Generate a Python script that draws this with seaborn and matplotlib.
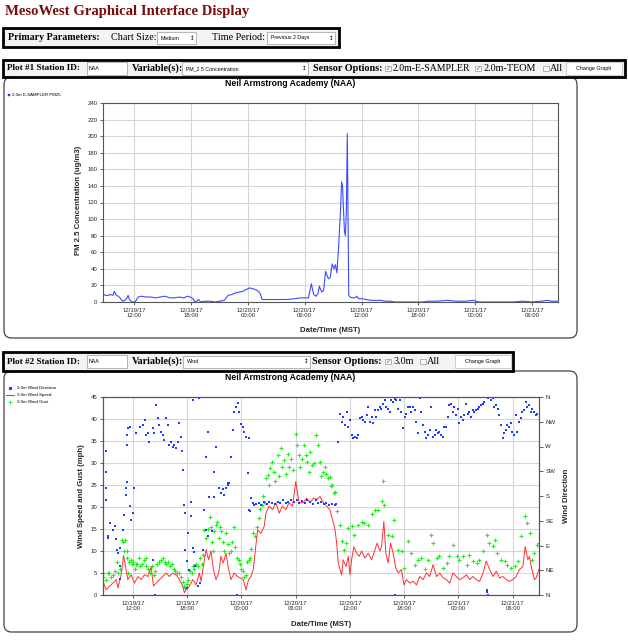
import numpy as np
import pandas as pd
import matplotlib
matplotlib.use("Agg")
import matplotlib.pyplot as plt
import matplotlib.dates as mdates
from matplotlib.patches import Rectangle, FancyBboxPatch
from matplotlib.lines import Line2D
import seaborn as sns

# ---------------- DATA (hours since 2017-12-19 00:00 MST) ----------------
pm_hours = [8.75, 9.0, 9.25, 9.5, 9.75, 9.9, 10.1, 10.3, 10.5, 10.75, 11.0, 11.2, 11.35, 11.5, 11.75,
            12.1, 12.4, 12.75, 13.25, 13.75, 14.25, 14.75, 15.25, 15.75, 16.25, 16.75, 17.25, 17.6, 17.9,
            18.2, 18.4, 18.6, 18.8, 19.0, 19.5, 20.0, 20.5, 21.0, 21.5, 21.9, 22.3, 22.7, 23.1, 23.5, 23.8,
            24.2, 24.5, 24.8, 25.1, 25.3, 25.5, 26.0, 27.0, 28.0, 29.0, 29.5, 30.0, 30.4, 30.7, 30.95,
            31.2, 31.4, 31.55, 31.8, 32.0, 32.2, 32.5, 32.7, 32.9, 33.1, 33.25, 33.4, 33.6, 33.8, 33.9,
            34.0, 34.1, 34.2, 34.3, 34.4, 34.5, 34.65, 34.8, 35.0, 35.3, 35.5, 35.7, 36.0, 36.5, 37.0,
            37.5, 38.0, 38.5, 39.0, 39.5, 40.0, 41.0, 42.0, 42.5, 43.0, 44.0, 45.0, 46.0, 47.0, 47.8,
            48.1, 48.4, 50.0, 52.0, 53.0, 54.0, 55.0, 55.7, 56.0, 56.7]
pm_values = [9, 8, 8, 9, 8, 13, 8, 7, 5, 1, 2, 4, 8, 3, 0,
             0, 6, 7, 6, 6, 5, 6, 7, 5, 5, 6, 5, 7, 6,
             4, 0, 1, 3, 0, 1, 1, 0, 1, 2, 8, 9, 11, 12, 13, 15,
             17, 16, 15, 13, 10, 3, 3, 3, 3, 4, 5, 5, 5, 22, 9,
             7, 10, 19, 12, 14, 37, 28, 30, 46, 40, 45, 35, 70, 115, 145,
             140, 110, 85, 80, 110, 203, 8, 6, 5, 5, 7, 4, 4, 3, 2,
             2, 2, 1, 1, 0, 0, 0, 0, 0, 1, 1, 2, 1, 1, 2,
             1, 0, 0, 0, 1, 0, 1, 2, 1, 1]

speed_hours = [8.69, 8.88, 9.06, 9.43, 9.79, 10.16, 10.35, 10.71, 10.97, 11.19, 11.45, 11.82, 12.18,
               12.55, 12.92, 13.29, 13.65, 14.02, 14.28, 14.57, 14.94, 15.31, 15.68, 16.04, 16.41,
               16.78, 17.15, 17.51, 17.70, 17.88, 18.25, 18.62, 18.99, 19.35, 19.54, 19.79, 20.09,
               20.38, 20.64, 20.90, 21.19, 21.49, 21.74, 22.0, 22.29, 22.59, 22.85, 23.21, 23.58,
               23.84, 24.21, 24.50, 24.79, 25.05, 25.31, 25.53, 25.79, 26.15, 26.52, 26.71, 27.07,
               27.44, 27.81, 28.18, 28.54, 28.91, 29.28, 29.65, 30.01, 30.2, 30.38, 30.85, 31.22,
               31.59, 31.96, 32.32, 32.69, 33.06, 33.43, 33.79, 33.98, 34.16, 34.35, 34.53, 34.71,
               34.90, 35.08, 35.26, 35.56, 35.82, 36.0, 36.18, 36.44, 36.74, 37.03, 37.29, 37.65,
               38.02, 38.39, 38.76, 39.01, 39.31, 39.49, 39.75, 39.97, 40.23, 40.49, 40.78, 41.07,
               41.33, 41.70, 41.96, 42.25, 42.62, 42.99, 43.35, 43.72, 44.09, 44.46, 44.82, 45.19,
               45.56, 45.93, 46.29, 46.66, 47.03, 47.40, 47.76, 48.13, 48.50, 48.87, 49.24, 49.60,
               49.97, 50.34, 50.71, 51.07, 51.44, 51.81, 52.18, 52.54, 52.91, 53.28, 53.65, 54.01,
               54.38, 54.75, 55.12, 55.37, 55.67, 55.85, 56.04, 56.22, 56.40, 56.59, 56.88]
speed_values = [3.5, 2, 1.2, 2, 2.7, 3.5, 1.6, 4.6, 9, 6.5, 3.5, 4.6, 2.7,
                4.2, 3.5, 4.6, 4.2, 6.4, 2, 2.7, 3.5, 4.2, 5, 4.2, 5,
                4.6, 3.5, 2, 0.5, 1.2, 2, 3.5, 2.3, 5, 3.1, 6.5, 10.3,
                8, 10, 5.8, 3.5, 5, 8.8, 7.3, 9.5, 5.8, 3.5, 5, 4.2,
                3.9, 3.5, 1.2, 3.5, 4.2, 5.8, 10, 14.8, 14, 15.6, 18.6, 20.2,
                19.4, 21, 18.6, 20.2, 19.4, 21, 20.2, 25.8, 23.2, 21, 21, 22,
                21, 22, 21.7, 22.4, 21, 20.2, 19.4, 17.9, 16.4, 14.8, 11.8, 7.3,
                5.8, 4.6, 8, 6.5, 8.8, 4.6, 8, 11, 9.5, 8.8, 10, 8.4,
                9.5, 8, 10.3, 11.8, 10, 11, 16.7, 9.5, 7.3, 11.8, 9.5, 6.1,
                5, 5.8, 2.3, 3.5, 2.7, 3.1, 2.3, 4.2, 3.5, 5, 4.2, 6.9,
                4.2, 5, 3.9, 3.5, 2.7, 5, 4.2, 3.5, 3.9, 4.6, 3.5, 4.2,
                3.5, 3.1, 5, 7.7, 5.8, 4.2, 5.4, 3.9, 4.2, 3.5, 3.1, 3.5,
                4.2, 5.8, 6.5, 11, 8, 8.8, 6.5, 5, 3.5, 3.9, 5.8]

gust_hours = [8.7, 8.75, 9.0, 9.2, 9.4, 9.6, 9.8, 10.0, 10.2, 10.4, 10.6, 10.8, 10.9, 11.0, 11.1,
              11.3, 11.4, 11.5, 11.6, 11.8, 11.9, 12.0, 12.2, 12.3, 12.5, 12.7, 12.8, 13.0, 13.2,
              13.4, 13.5, 13.7, 13.9, 14.1, 14.3, 14.5, 14.7, 14.9, 15.1, 15.3, 15.5, 15.7, 15.9,
              16.1, 16.3, 16.5, 16.7, 16.9, 17.1, 17.3, 17.5, 17.7, 17.8, 18.0, 18.1, 18.3, 18.5,
              18.6, 18.8, 19.0, 19.2, 19.4, 19.6, 19.8, 19.9, 20.1, 20.3, 20.5, 20.6, 20.8, 20.9,
              21.0, 21.2, 21.3, 21.5, 21.6, 21.8, 22.0, 22.1, 22.3, 22.5, 22.6, 22.8, 23.0, 23.2,
              23.3, 23.5, 23.7, 23.8, 24.0, 24.2, 24.3, 24.5, 24.6, 24.8, 25.0, 25.1, 25.3, 25.5,
              25.7, 25.9, 26.1, 26.3, 26.4, 26.6, 26.7, 26.9, 27.0, 27.2, 27.4, 27.6, 27.7, 28.0,
              28.2, 28.4, 28.5, 28.7, 28.9, 29.1, 29.3, 29.5, 29.7, 30.0, 30.2, 30.4, 30.5, 30.7,
              30.9, 31.1, 31.3, 31.5, 31.6, 31.8, 32.0, 32.3, 32.5, 32.7, 32.8, 33.0, 33.2, 33.4,
              33.6, 33.8, 33.9, 34.0, 34.2, 34.4, 34.6, 34.9, 35.1, 35.3, 35.6, 35.8, 36.2, 36.5,
              36.9, 37.3, 37.6, 38.0, 38.4, 38.8, 39.1, 39.5, 39.7, 39.8, 40.2, 40.6, 40.9, 41.3,
              41.7, 42.0, 42.4, 42.8, 43.2, 43.5, 43.9, 44.3, 44.6, 45.0, 45.2, 45.6, 45.9, 46.3,
              46.7, 47.0, 47.4, 47.8, 48.1, 48.5, 48.9, 49.2, 49.6, 50.0, 50.3, 50.7, 51.1, 51.4,
              51.8, 52.0, 52.3, 52.7, 53.1, 53.4, 53.8, 54.2, 54.6, 54.9, 55.3, 55.6, 55.9, 56.1,
              56.4, 56.7, 56.9]
gust_values = [5, 4, 3.5, 5, 5, 4, 4.5, 5.5, 7.5, 5, 6, 12.5, 12, 10, 12.5,
               10, 8.5, 5, 7.5, 8, 7, 7.5, 6, 7, 7, 8.5, 6.5, 7, 8,
               8.5, 6.5, 6, 5, 6.5, 4.5, 5.5, 7, 7.5, 8, 8.5, 7.5, 7, 7.5,
               6.5, 7, 6, 5.5, 5, 5, 4, 3, 2, 1.5, 2.5, 3.5, 5.5, 5,
               6.5, 6, 7, 6.5, 8.5, 7, 9, 14.8, 13, 15, 17.7, 15.5, 12, 10,
               14.5, 16, 16.7, 13, 15.5, 14.5, 12, 10, 14, 11.5, 9.5, 10, 12, 15.5,
               11, 8.5, 8, 7, 6, 5.5, 4, 4.5, 7.5, 8, 8.5, 10.5, 14, 13.5,
               15.5, 17.5, 19.5, 20.5, 22.5, 21, 26.5, 27.3, 25, 28.8, 30.3, 28, 26, 31.8,
               27, 33.3, 29, 30.7, 27.5, 32, 29, 31, 28.5, 36.5, 34, 31.8, 29, 31,
               34, 31.8, 30.3, 28, 32.6, 29.5, 30, 36.4, 34, 30.3, 27, 28, 29.2, 27.5,
               26.5, 26.9, 24.7, 25, 23.2, 23.5, 19, 16, 12.2, 10.3, 11.8, 15.2, 15.6, 13.7,
               16, 16.7, 16.4, 16, 18.3, 19.4, 19.4, 21.3, 26, 20.5, 13.7, 13.3, 17.1, 10.3,
               9.9, 6.1, 12.2, 9.5, 6.9, 8, 8.4, 5.8, 8, 13.7, 11.8, 8.4, 8.8, 6.1,
               7.3, 8.8, 11.4, 8.8, 8, 8.8, 6.9, 9.2, 7.7, 7.3, 8, 9.9, 13.7, 11.8,
               11.1, 12.6, 9.5, 8, 7.7, 6.9, 6.1, 6.5, 7.7, 13.3, 17.9, 16.4, 14, 8,
               9.5, 11.4, 11.8]

dir_hours = [8.69, 8.69, 8.99, 8.99, 9.06, 9.06, 9.24, 9.28, 9.43, 9.79, 9.98, 10.16, 10.2, 10.35,
             10.53, 10.55, 10.60, 10.90, 11.01, 11.19, 11.22, 11.34, 11.34, 11.38, 11.45, 11.63,
             11.63, 11.82, 12.0, 12.18, 12.37, 12.74, 13.10, 13.29, 13.47, 13.65, 13.84, 14.21,
             14.21, 14.39, 14.45, 14.57, 14.76, 14.94, 15.13, 15.31, 15.49, 15.68, 15.86, 16.04,
             16.23, 16.41, 16.60, 16.78, 16.96, 17.15, 17.33, 17.44, 17.51, 17.70, 17.72, 17.77,
             17.96, 17.98, 18.07, 18.25, 18.43, 18.45, 18.62, 18.62, 18.80, 18.82, 19.17, 19.35,
             19.37, 19.72, 19.90, 20.09, 20.09, 20.27, 20.27, 20.46, 20.75, 21.01, 21.01, 21.19,
             21.56, 21.74, 21.93, 22.11, 22.29, 22.48, 22.50, 22.66, 22.85, 23.03, 23.21, 23.40,
             23.47, 23.58, 23.76, 23.95, 24.13, 24.32, 24.50, 24.68, 24.79, 24.87, 24.90, 25.05,
             25.24, 25.42, 25.6, 25.9, 26.2, 26.5, 26.8, 27.1, 27.4, 27.7, 28.0, 28.3, 28.6, 28.9,
             29.2, 29.5, 29.8, 30.1, 30.4, 30.7, 31.0, 31.3, 31.6, 31.9, 32.2, 32.5, 32.8, 33.1,
             33.4, 33.7, 34.0, 34.3, 34.5, 41.0, 51.1, 51.2, 51.25]
dir_values = [291, 272, 262, 195, 224, 173, 107, 104, 131, 119, 125, 101, 82, 76,
              85, 52, 29, 119, 146, 195, 182, 206, 272, 291, 303, 306,
              161, 137, 149, 194, 294, 306, 309, 318, 291, 294, 279, 303,
              64, 294, 0, 345, 321, 309, 297, 291, 282, 321, 309, 273,
              279, 270, 273, 267, 279, 312, 288, 261, 227, 164, 149, 82,
              61, 13, 113, 46, 170, 143, 355, 85, 79, 52, 17, 359,
              22, 82, 155, 251, 119, 297, 107, 179, 116, 179, 223, 270,
              195, 185, 192, 182, 195, 200, 203, 203, 251, 300, 333, 342,
              0, 349, 333, 311, 306, 296, 288, 221, 285, 155, 152, 176,
              167, 164, 165, 168, 163, 170, 166, 170, 168, 165, 170, 167, 172, 168,
              170, 173, 170, 172, 168, 171, 168, 172, 170, 166, 172, 168, 170, 166,
              168, 164, 165, 163, 166, 0, 5, 10, 0]

# wind direction after the front, one report every 11 minutes from 12/20 10:43
dir2_start = "2017-12-20 10:43"
dir2_values = [279, 330, 315, 324, 309, 333, 306, 318, 291, 285, 288, 285, 291, 321, 324, 318, 315,
               327, 342, 315, 324, 312, 336, 324, 336, 342, 339, 348, 355, 342, 339, 333, 355, 351,
               356, 355, 339, 355, 333, 303, 324, 330, 342, 342, 333, 342, 336, 315, 294, 358, 333,
               309, 297, 285, 291, 300, 342, 288, 291, 300, 294, 297, 291, 288, 306, 306, 324, 345,
               348, 333, 342, 327, 339, 312, 324, 318, 327, 348, 330, 333, 324, 336, 333, 336, 339,
               342, 345, 348, 351, 360, 358, 360, 355, 358, 342, 345, 339, 327, 309, 285, 294, 300,
               309, 306, 312, 297, 291, 327, 297, 315, 321, 333, 336, 351, 342, 345, 333, 339, 333,
               327, 330]

x_tick_hours = [12, 18, 24, 30, 36, 42, 48, 54]
pm_yticks = list(range(0, 241, 20))
wind_yticks = list(range(0, 46, 5))
dir_ticks = [0, 45, 90, 135, 180, 225, 270, 315, 360]
dir_labels = ["N", "NE", "E", "SE", "S", "SW", "W", "NW", "N"]

# ---------------- FIGURE ----------------
sns.set_style("white")
plt.rcParams['font.family'] = ['Liberation Sans', 'DejaVu Sans']
SERIF = ['Liberation Serif', 'DejaVu Serif']
SANS = ['Liberation Sans', 'DejaVu Sans']
GREEN = '#22ee22'
BLUE = '#1f3dff'
RED = '#ff3030'

W, H = 628, 640
fig = plt.figure(figsize=(W / 100, H / 100), dpi=100)
fig.patch.set_facecolor('white')

BASE = pd.Timestamp("2017-12-19 00:00")


def to_time(hours):
    return BASE + pd.to_timedelta(np.asarray(hours, dtype=float), unit="h")


def fx(x):
    return x / W


def fy(y):
    return 1 - y / H


def rect(x0, y0, x1, y1, fc, ec, lw, z=2):
    fig.add_artist(Rectangle((fx(x0), fy(y1)), fx(x1) - fx(x0), fy(y0) - fy(y1),
                             transform=fig.transFigure, fc=fc, ec=ec, lw=lw, zorder=z))


def txt(x, y, s, size, family=SERIF, weight='normal', color='black', ha='left', va='center', **kw):
    fig.text(fx(x), fy(y), s, fontsize=size, family=family, weight=weight, color=color,
             ha=ha, va=va, zorder=5, **kw)


def panel(x0, y0, x1, y1):
    fig.add_artist(FancyBboxPatch((fx(x0), fy(y1)), fx(x1) - fx(x0), fy(y0) - fy(y1),
                                  boxstyle="round,pad=0,rounding_size=0.012",
                                  transform=fig.transFigure, fc='white', ec='#444444',
                                  lw=0.9, zorder=1))


def dropdown(x0, x1, yc, label):
    rect(x0, yc - 6, x1, yc + 6, 'white', '#aaaaaa', 0.6, z=3)
    txt(x0 + 4, yc, label, 3.8, family=SANS)
    txt(x1 - 4, yc, "\u2195", 4, family=['DejaVu Sans'], ha='center')


def checkbox(x, yc, checked):
    rect(x, yc - 2.8, x + 5.6, yc + 2.8, '#f8f8f8', '#999999', 0.5, z=4)
    if checked:
        txt(x + 2.8, yc + 0.2, "\u2713", 4.2, family=['DejaVu Sans'], color='#555555', ha='center')


# Title
txt(5, 11, "MesoWest Graphical Interface Display", 10.6, weight='bold', color='#7a0c0c')

# Primary parameters box
rect(3, 28, 339, 47, '#f3f3f3', 'black', 2.0)
txt(8, 38, "Primary Parameters:", 7.2, weight='bold')
txt(111, 38, "Chart Size:", 7.3)
dropdown(157, 196, 38, "Medium")
txt(212, 38, "Time Period:", 7.3)
dropdown(267, 335, 38, "Previous 2 Days")

# Plot 1 option bar
panel(4, 77, 577, 338)
rect(3, 60, 625, 77, '#f3f3f3', 'black', 2.0)
y1b = 68.5
txt(7, y1b, "Plot #1 Station ID:", 6.6, weight='bold')
rect(87, y1b - 6.5, 127, y1b + 6.5, 'white', '#999999', 0.5, z=3)
txt(89, y1b, "NAA", 3.8, family=SANS)
txt(132, y1b, "Variable(s):", 7.3, weight='bold')
dropdown(182, 308, y1b, "PM_2.5 Concentration")
txt(313, y1b, "Sensor Options:", 7.3, weight='bold')
checkbox(385, y1b, True)
txt(393, y1b, "2.0m-E-SAMPLER", 7.0)
checkbox(475, y1b, True)
txt(483, y1b, "2.0m-TEOM", 7.3)
checkbox(543, y1b, False)
txt(550, y1b, "All", 7.3)
rect(566, y1b - 6.5, 622, y1b + 6.5, 'white', '#bbbbbb', 0.5, z=3)
txt(594, y1b, "Change Graph", 3.9, family=SANS, ha='center')

txt(290, 84, "Neil Armstrong Academy (NAA)", 6.2, family=SANS, weight='bold', ha='center')
rect(7.5, 93.5, 10, 96, BLUE, BLUE, 0.3, z=4)
txt(12.5, 95, "2.0m E-SAMPLER PM25", 3.2, family=SANS)

# Plot 2 option bar
panel(4, 371, 577, 632)
rect(3, 352, 513, 371, '#f3f3f3', 'black', 2.0)
y2b = 361.5
txt(7, y2b, "Plot #2 Station ID:", 6.6, weight='bold')
rect(87, y2b - 6.5, 127, y2b + 6.5, 'white', '#999999', 0.5, z=3)
txt(89, y2b, "NAA", 3.8, family=SANS)
txt(132, y2b, "Variable(s):", 7.3, weight='bold')
dropdown(183, 310, y2b, "Wind")
txt(312, y2b, "Sensor Options:", 7.3, weight='bold')
checkbox(385, y2b, True)
txt(393, y2b, "3.0m", 7.3)
checkbox(420, y2b, False)
txt(427, y2b, "All", 7.3)
rect(455, y2b - 6.5, 511, y2b + 6.5, 'white', '#bbbbbb', 0.5, z=3)
txt(483, y2b, "Change Graph", 3.9, family=SANS, ha='center')

txt(290, 377, "Neil Armstrong Academy (NAA)", 6.2, family=SANS, weight='bold', ha='center')
# legend of plot 2
fig.add_artist(Line2D([fx(10)], [fy(388)], marker='s', ms=1.3, color=BLUE, lw=0,
                      transform=fig.transFigure, zorder=5))
fig.add_artist(Line2D([fx(6), fx(14)], [fy(395), fy(395)], color=RED, lw=0.8,
                      transform=fig.transFigure, zorder=5))
fig.add_artist(Line2D([fx(10)], [fy(402)], marker='+', ms=2.5, mew=0.6, color=GREEN, lw=0,
                      transform=fig.transFigure, zorder=5))
txt(17, 388, "3.0m Wind Direction", 3.2, family=SANS)
txt(17, 395, "3.0m Wind Speed", 3.2, family=SANS)
txt(17, 402, "3.0m Wind Gust", 3.2, family=SANS)

# ---------------- AXES ----------------
xmin, xmax = to_time([8.7, 56.75])
tick_times = to_time(x_tick_hours)
fmt = mdates.DateFormatter('%m/%d/%y\n%H:%M')


def style_axes(ax):
    for sp in ax.spines.values():
        sp.set_color('#555555')
        sp.set_linewidth(0.8)
    ax.tick_params(axis='both', which='both', labelsize=4.3, length=2.5, width=0.6,
                   color='#444444', pad=1.5, bottom=True, left=True)
    ax.grid(True, color='#d6d6d6', lw=0.8)
    ax.set_axisbelow(True)


ax1 = fig.add_axes([fx(103), fy(302), fx(558) - fx(103), fy(103) - fy(302)])
ax1.set_zorder(3)
pm_df = pd.DataFrame({"time": to_time(pm_hours), "pm": pm_values})
sns.lineplot(data=pm_df, x="time", y="pm", ax=ax1, color='#3a4cff', lw=0.8)
ax1.set_xlim(xmin, xmax)
ax1.set_ylim(0, 240)
ax1.set_yticks(pm_yticks)
ax1.set_xticks(tick_times)
ax1.xaxis.set_major_formatter(fmt)
style_axes(ax1)
ax1.set_ylabel("PM 2.5 Concentration (ug/m3)", fontsize=5.6, weight='bold')
ax1.set_xlabel("Date/Time (MST)", fontsize=5.6, weight='bold')
ax1.yaxis.set_label_coords(-0.046, 0.51)
ax1.xaxis.set_label_coords(0.5, -0.125)

ax2 = fig.add_axes([fx(103), fy(595), fx(539) - fx(103), fy(397) - fy(595)])
ax2.set_zorder(3)
gust_df = pd.DataFrame({"time": to_time(gust_hours), "gust": gust_values})
speed_df = pd.DataFrame({"time": to_time(speed_hours), "speed": speed_values})
sns.scatterplot(data=gust_df, x="time", y="gust", ax=ax2, marker='+', s=9, color=GREEN,
                linewidth=0.8)
for coll in ax2.collections:
    coll.set_edgecolor(GREEN)
    coll.set_facecolor(GREEN)
    coll.set_linewidth(0.8)
sns.lineplot(data=speed_df, x="time", y="speed", ax=ax2, color=RED, lw=0.7)
ax2.set_xlim(xmin, to_time([56.9])[0])
ax2.set_ylim(0, 45)
ax2.set_yticks(wind_yticks)
ax2.set_xticks(tick_times)
ax2.xaxis.set_major_formatter(fmt)
style_axes(ax2)
ax2.set_ylabel("Wind Speed and Gust (mph)", fontsize=5.6, weight='bold')
ax2.set_xlabel("Date/Time (MST)", fontsize=5.6, weight='bold')
ax2.yaxis.set_label_coords(-0.041, 0.5)
ax2.xaxis.set_label_coords(0.5, -0.13)

ax2r = ax2.twinx()
dir_times = list(to_time(dir_hours)) + list(pd.date_range(dir2_start, periods=len(dir2_values), freq="11min"))
dir_df = pd.DataFrame({"time": dir_times, "dir": dir_values + dir2_values})
sns.scatterplot(data=dir_df, x="time", y="dir", ax=ax2r, marker='s', s=2.4, color=BLUE,
                linewidth=0)
ax2r.set_ylim(0, 360)
ax2r.set_yticks(dir_ticks)
ax2r.set_yticklabels(dir_labels)
for sp in ax2r.spines.values():
    sp.set_color('#555555')
    sp.set_linewidth(0.8)
ax2r.tick_params(axis='y', labelsize=4.4, length=3, width=0.6, color='#444444', pad=1.5, right=True)
ax2r.grid(False)
ax2r.set_ylabel("Wind Direction", fontsize=5.6, weight='bold')
ax2r.yaxis.set_label_coords(1.055, 0.5)

fig.savefig("out.png", dpi=100)
